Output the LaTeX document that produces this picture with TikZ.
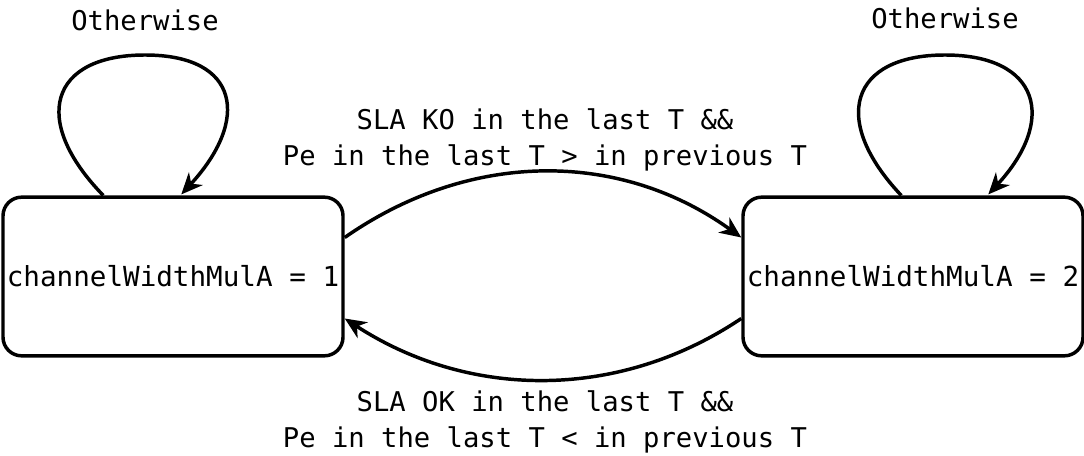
\documentclass[tikz,border=0pt]{standalone}
\usepackage{fontspec}
\setmonofont{DejaVu Sans Mono}
\usetikzlibrary{arrows.meta,calc}
\begin{document}
\begin{tikzpicture}[x=0.75pt,y=-0.75pt,
  statebox/.style={draw,line width=2.6pt,rounded corners=14pt,minimum width=255pt,minimum height=119pt,font=\ttfamily\fontsize{20.7}{24}\selectfont,inner sep=0pt},
  lbl/.style={font=\ttfamily\fontsize{20.4}{27}\selectfont,align=center},
  conn/.style={line width=2.6pt,-{Stealth[length=16pt,width=14pt,inset=5pt]}}]
\useasboundingbox (0,0) rectangle (1084,456);
\node[statebox] (a) at (173,276.5) {channelWidthMulA = 1};
\node[statebox] (b) at (913,276.5) {channelWidthMulA = 2};
\coordinate (a1) at ($(a.east)+(0,-39)$);
\coordinate (b1) at ($(b.west)+(0,-39)$);
\coordinate (a2) at ($(a.east)+(0,42)$);
\coordinate (b2) at ($(b.west)+(0,42)$);
\draw[conn] (a1) .. controls (470,150) and (620,150) .. (b1);
\draw[conn] (b2) .. controls (620,400) and (470,400) .. (a2);
\coordinate (al) at ($(a.north west)+(102,0)$);
\coordinate (ar) at ($(a.north west)+(180,-1)$);
\draw[conn] (al) .. controls (30,120) and (50,55) .. (145,55) .. controls (240,55) and (250,120) .. (ar);
\coordinate (bl) at ($(b.north west)+(160,0)$);
\coordinate (br) at ($(b.north west)+(247,-1)$);
\draw[conn] (bl) .. controls (830,120) and (850,55) .. (945,55) .. controls (1040,55) and (1057,120) .. (br);
\node[lbl] (l1) at (145,20) {Otherwise};
\node[lbl] (l2) at (945,18) {Otherwise};
\node[lbl] (l3) at (545,140) {SLA KO in the last T \&\&\\Pe in the last T > in previous T};
\node[lbl] (l4) at (545,422) {SLA OK in the last T \&\&\\Pe in the last T < in previous T};
\end{tikzpicture}
\end{document}
